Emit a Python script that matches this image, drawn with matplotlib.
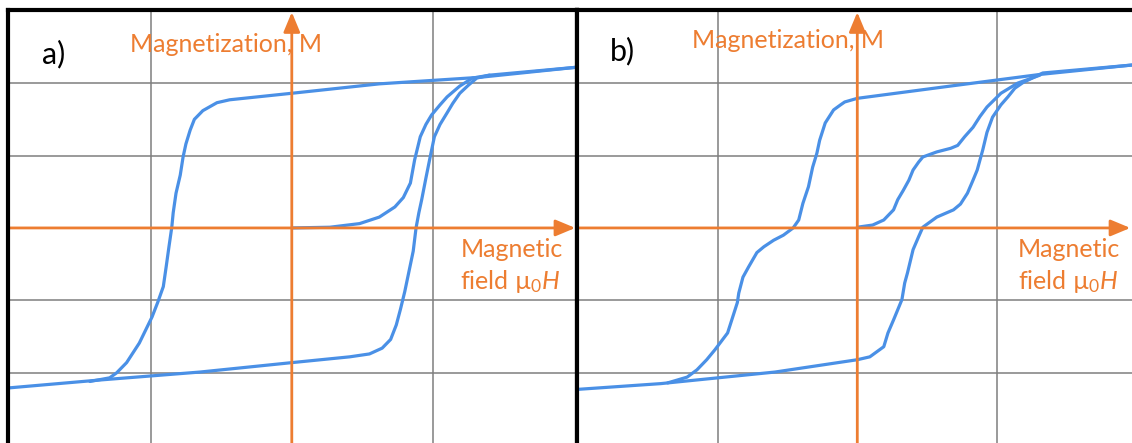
import matplotlib.pyplot as plt

# Two hysteresis loop sketches, a) single step and b) two step switching
plt.rcParams['font.family'] = ['Lato', 'DejaVu Sans']
plt.rcParams['mathtext.fontset'] = 'custom'
plt.rcParams['mathtext.rm'] = 'Lato'
plt.rcParams['mathtext.it'] = 'Lato:italic'

blue = '#4A90E6'
orange = '#ED7D31'
grey = '#7F7F7F'

panel_labels = ['a)', 'b)']
y_label = 'Magnetization, M'
x_label = 'Magnetic\nfield $\\mathrm{\u00b5}_0\\mathit{H}$'

grid_h = [-1, 1]
grid_m = [-2, -1, 1, 2]

# panel a, field H (grid units) and magnetization M (grid units)
a_down_h = [2.02, 1.33, 0.62, 0.0, -0.44, -0.53, -0.63, -0.69, -0.72, -0.75, -0.77, -0.79, -0.82, -0.84,
            -0.85, -0.87, -0.89, -0.91, -0.95, -0.99, -1.01, -1.08, -1.17, -1.24, -1.29, -1.43]
a_down_m = [2.22, 2.08, 1.99, 1.86, 1.77, 1.73, 1.62, 1.50, 1.35, 1.16, 0.98, 0.73, 0.48, 0.21,
            0.01, -0.26, -0.54, -0.81, -1.03, -1.23, -1.31, -1.59, -1.86, -2.00, -2.07, -2.12]

a_up_h = [-2.01, -1.36, -0.65, 0.0, 0.41, 0.55, 0.64, 0.70, 0.74, 0.77, 0.80, 0.83, 0.86, 0.88, 0.90,
          0.92, 0.95, 0.98, 1.01, 1.05, 1.10, 1.14, 1.19, 1.25, 1.31, 1.40, 2.02]
a_up_m = [-2.21, -2.10, -1.99, -1.86, -1.78, -1.74, -1.66, -1.54, -1.34, -1.12, -0.88, -0.60, -0.32, 0.0, 0.21,
          0.39, 0.69, 0.98, 1.26, 1.43, 1.59, 1.72, 1.86, 1.97, 2.07, 2.11, 2.22]

a_virgin_h = [0.0, 0.27, 0.48, 0.62, 0.73, 0.79, 0.84, 0.87, 0.91, 0.95, 0.99, 1.05, 1.10, 1.19, 1.28, 1.40]
a_virgin_m = [0.0, 0.01, 0.06, 0.15, 0.29, 0.42, 0.62, 0.94, 1.26, 1.43, 1.56, 1.70, 1.81, 1.96, 2.07, 2.11]

# panel b
b_down_h = [1.97, 1.31, 0.67, 0.0, -0.09, -0.12, -0.17, -0.23, -0.27, -0.29, -0.32, -0.35, -0.39, -0.42,
            -0.46, -0.53, -0.60, -0.67, -0.72, -0.78, -0.82, -0.85, -0.86, -0.90, -0.93, -1.02, -1.08,
            -1.15, -1.22, -1.29, -1.36]
b_down_m = [2.25, 2.12, 1.96, 1.79, 1.74, 1.70, 1.63, 1.45, 1.21, 1.03, 0.84, 0.57, 0.34, 0.11,
            0.0, -0.10, -0.17, -0.26, -0.34, -0.54, -0.68, -0.90, -1.03, -1.27, -1.45, -1.68, -1.82,
            -1.96, -2.06, -2.10, -2.14]

b_up_h = [-2.01, -1.41, -0.59, 0.0, 0.09, 0.19, 0.22, 0.26, 0.32, 0.34, 0.36, 0.40, 0.44, 0.47, 0.57,
          0.69, 0.74, 0.79, 0.83, 0.86, 0.90, 0.93, 0.97, 1.03, 1.08, 1.13, 1.19, 1.33, 1.97]
b_up_m = [-2.23, -2.15, -1.99, -1.82, -1.78, -1.64, -1.45, -1.27, -0.99, -0.76, -0.62, -0.30, -0.12, 0.01, 0.15,
          0.25, 0.33, 0.48, 0.66, 0.80, 1.08, 1.32, 1.53, 1.70, 1.81, 1.93, 2.01, 2.14, 2.25]

b_virgin_h = [0.0, 0.11, 0.19, 0.26, 0.29, 0.33, 0.37, 0.40, 0.44, 0.47, 0.57, 0.67, 0.72, 0.77, 0.83,
              0.88, 0.93, 1.03, 1.15, 1.31]
b_virgin_m = [0.01, 0.04, 0.11, 0.25, 0.39, 0.52, 0.66, 0.80, 0.91, 0.98, 1.05, 1.10, 1.14, 1.26, 1.39,
              1.54, 1.67, 1.86, 2.00, 2.11]

fig = plt.figure(figsize=(11.32, 4.43), dpi=100)
W, H = 1132.0, 443.0
ax_a = fig.add_axes([8 / W, 0, 569 / W, 433 / H])
ax_b = fig.add_axes([577 / W, 0, 555 / W, 433 / H])

panels = [
    (ax_a, (-2.01, 2.02), [(a_down_h, a_down_m), (a_up_h, a_up_m), (a_virgin_h, a_virgin_m)],
     (0.06, 0.898), (0.215, 0.92), (0.795, 0.408), True),
    (ax_b, (-2.01, 1.97), [(b_down_h, b_down_m), (b_up_h, b_up_m), (b_virgin_h, b_virgin_m)],
     (0.06, 0.905), (0.208, 0.93), (0.795, 0.408), False),
]

for i, (ax, xlim, curves, lab_pos, ylab_pos, xlab_pos, right_spine) in enumerate(panels):
    ax.set_xlim(*xlim)
    ax.set_ylim(-2.97, 3.01)
    ax.set_xticks([])
    ax.set_yticks([])
    ax.set_facecolor('white')
    for side in ['top', 'left', 'right', 'bottom']:
        ax.spines[side].set_color('black')
        ax.spines[side].set_linewidth(3.0)
        ax.spines[side].set_zorder(10)
    ax.spines['bottom'].set_visible(False)
    ax.spines['right'].set_visible(right_spine)

    for g in grid_h:
        ax.axvline(g, color=grey, lw=1.1, zorder=1)
    for g in grid_m:
        ax.axhline(g, color=grey, lw=1.1, zorder=1)

    for h, m in curves:
        ax.plot(h, m, color=blue, lw=2.3, solid_capstyle='round', solid_joinstyle='round', zorder=3)

    # orange axes with arrow heads
    astyle = '-|>,head_length=0.6,head_width=0.25'
    ax.annotate('', xy=(0.997, 0), xycoords=('axes fraction', 'data'),
                xytext=(0, 0), textcoords=('axes fraction', 'data'),
                arrowprops=dict(arrowstyle=astyle, color=orange, lw=2.0, mutation_scale=20,
                                shrinkA=0, shrinkB=0), zorder=5)
    ax.annotate('', xy=(0, 0.995), xycoords=('data', 'axes fraction'),
                xytext=(0, 0), textcoords=('data', 'axes fraction'),
                arrowprops=dict(arrowstyle=astyle, color=orange, lw=2.0, mutation_scale=20,
                                shrinkA=0, shrinkB=0), zorder=5)

    ax.text(lab_pos[0], lab_pos[1], panel_labels[i], transform=ax.transAxes, fontsize=22,
            color='black', ha='left', va='center', zorder=4)
    ax.text(ylab_pos[0], ylab_pos[1], y_label, transform=ax.transAxes, fontsize=18,
            color=orange, ha='left', va='center', zorder=2)
    ax.text(xlab_pos[0], xlab_pos[1], x_label, transform=ax.transAxes, fontsize=18,
            color=orange, ha='left', va='center', linespacing=1.35, zorder=4)

fig.savefig('out.png', dpi=100, facecolor='white')
